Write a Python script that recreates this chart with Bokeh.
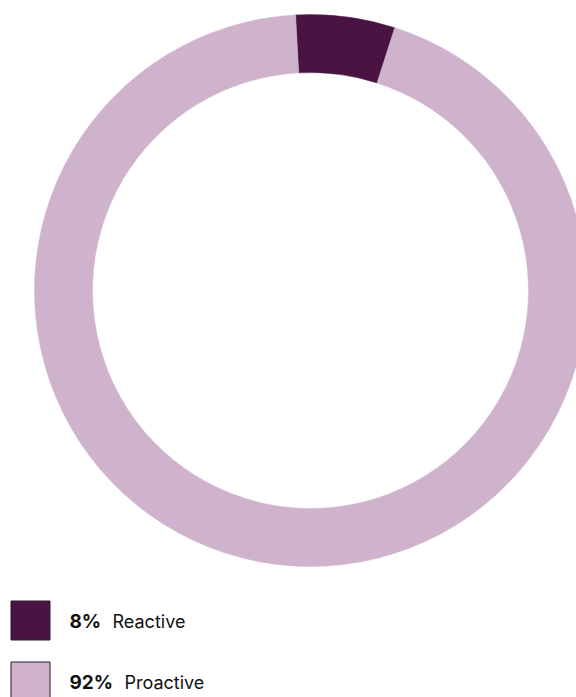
from math import pi
from bokeh.plotting import figure
from bokeh.models import Range1d, ColumnDataSource
from bokeh.core.properties import value
from bokeh.embed import file_html
from bokeh.resources import INLINE

# ---- data ----
categories = ["Reactive", "Proactive"]
pct_labels = ["8%", "92%"]
# share of the ring as drawn in the reference (degrees of arc / 360 * 100)
drawn_share = [5.8, 94.2]
colors = ["#4a1442", "#cfb3cd"]

W, H = 576, 697
p = figure(width=W, height=H, output_backend="svg", toolbar_location=None,
           x_range=Range1d(0, W), y_range=Range1d(0, H), min_border=0,
           border_fill_color="white", background_fill_color="white")
p.axis.visible = False
p.grid.visible = False
p.outline_line_color = None

# ring geometry
cx, cy = 310, H - 290
r_in, r_out = 218, 276
start_deg = 93.1  # measured counter-clockwise from +x

starts, ends = [], []
a = start_deg
for s in drawn_share:
    starts.append(a * pi / 180)
    a = a - s * 3.6
    ends.append(a * pi / 180)

src = ColumnDataSource(dict(start=starts, end=ends, color=colors))
p.annular_wedge(x=cx, y=cy, inner_radius=r_in, outer_radius=r_out,
                start_angle="start", end_angle="end", direction="clock",
                fill_color="color", line_color="color", line_width=0.5,
                source=src)

# legend
sq_x = [30, 30]
sq_y = [H - 620, H - 681]
leg = ColumnDataSource(dict(x=sq_x, y=sq_y, color=colors,
                            pct=pct_labels, cat=categories,
                            tx1=[69, 69], tx2=[112, 124],
                            ty=[H - 621, H - 682]))
p.rect(x="x", y="y", width=39, height=39, fill_color="color",
       line_color="#2a1a28", line_width=1, source=leg)
p.text(x="tx1", y="ty", text="pct", source=leg, text_font=value("Inter"),
       text_font_style="bold", text_font_size="19px", text_color="#111111",
       text_baseline="middle", text_align="left")
p.text(x="tx2", y="ty", text="cat", source=leg, text_font=value("Inter"),
       text_font_size="18px", text_color="#111111",
       text_baseline="middle", text_align="left")

open("out.html", "w").write(file_html(p, INLINE))
